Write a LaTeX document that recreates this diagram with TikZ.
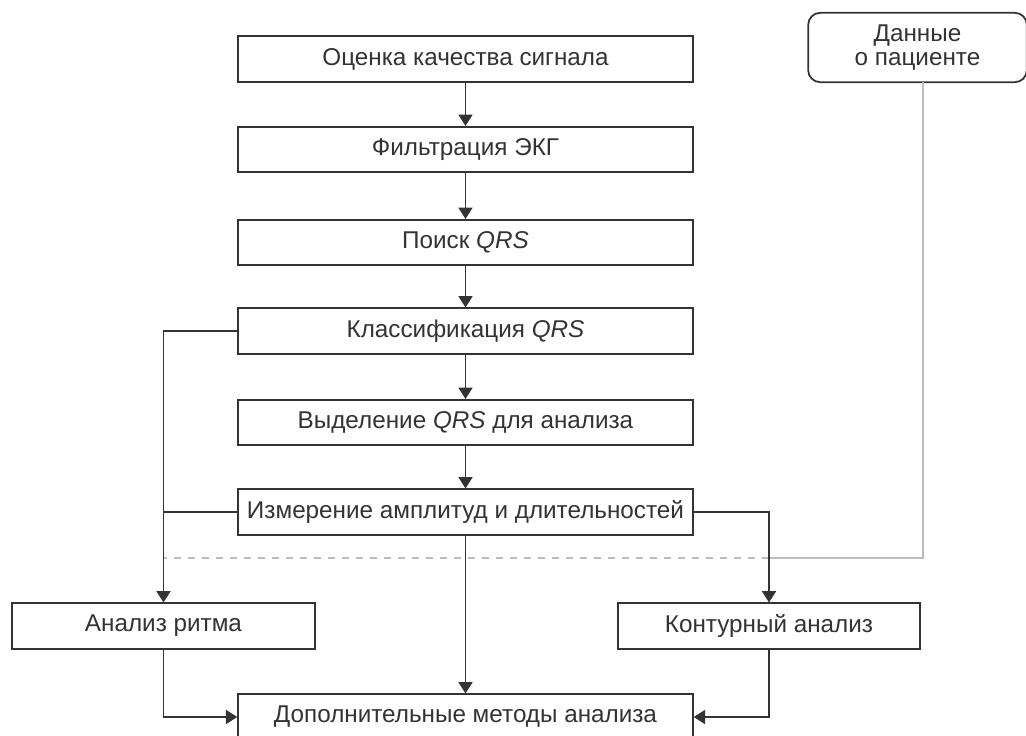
\documentclass[tikz,border=0pt]{standalone}
\usepackage{fontspec}
\setmainfont{Liberation Sans}
\usetikzlibrary{arrows.meta}
\definecolor{ink}{HTML}{333333}
\definecolor{lgray}{HTML}{BBBBBB}
\begin{document}
\begin{tikzpicture}[x=0.75pt,y=-0.75pt,
  box/.style={draw=ink,line width=1.3pt,rectangle,minimum height=34pt,inner sep=0pt,
    font=\fontsize{18.2}{17.5}\selectfont,text=ink},
  mainbox/.style={box,minimum width=341pt},
  sidebox/.style={box,minimum width=227pt},
  pbox/.style={box,rounded corners=9pt,minimum width=164pt,minimum height=52pt,align=center},
  link/.style={draw=ink,line width=1.2pt},
  arr/.style={link,-{Triangle[width=10.5pt,length=8.5pt]}},
  grayline/.style={draw=lgray,line width=1.6pt},
  graydash/.style={draw=lgray,line width=1.6pt,dash pattern=on 5.5pt off 5pt}]
\useasboundingbox (0,0) rectangle (1026,736);
\fill[white] (0,0) rectangle (1026,736);
\node[mainbox] (b1) at (465.5,59) {Оценка качества сигнала};
\node[mainbox] (b2) at (465.5,149.5) {Фильтрация ЭКГ};
\node[mainbox] (b3) at (465.5,242.5) {Поиск \textit{QRS}};
\node[mainbox] (b4) at (465.5,331) {Классификация \textit{QRS}};
\node[mainbox] (b5) at (465.5,422.5) {Выделение \textit{QRS} для анализа};
\node[mainbox] (b6) at (465.5,512) {Измерение амплитуд и длительностей};
\node[sidebox] (ritm) at (163.5,626) {Анализ ритма};
\node[sidebox] (kont) at (769,626) {Контурный анализ};
\node[mainbox] (dop) at (465.5,717) {Дополнительные методы анализа};
\node[pbox] (pat) at (917.5,47.5) {Данные\\о пациенте};
\coordinate (pb) at (923,82);
\coordinate (gj) at (769,558);
\coordinate (gl) at (163,558);
\draw[grayline] (pb) |- (gj);
\draw[graydash] (gj) -- (gl);
\draw[arr] (b1) -- (b2);
\draw[arr] (b2) -- (b3);
\draw[arr] (b3) -- (b4);
\draw[arr] (b4) -- (b5);
\draw[arr] (b5) -- (b6);
\draw[arr] (b6) -- (dop);
\draw[arr] (b4.west) -| (ritm.north);
\draw[link] (b6.west) -- (b6.west -| ritm.north);
\draw[arr] (b6.east) -| (kont.north);
\draw[arr] (ritm.south) |- (dop.west);
\draw[arr] (kont.south) |- (dop.east);
\end{tikzpicture}
\end{document}
